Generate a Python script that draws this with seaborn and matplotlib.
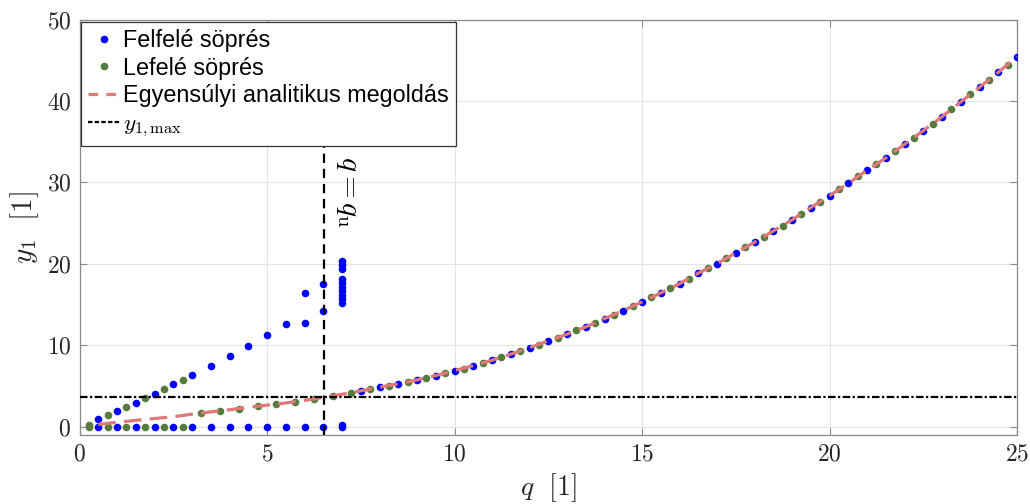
import numpy as np
import pandas as pd
import matplotlib
matplotlib.use("Agg")
import matplotlib.pyplot as plt
import seaborn as sns
from matplotlib.lines import Line2D

# ---------------- data ----------------
# up-sweep (Felfelé söprés)
blue_q = [0.5, 1.0, 1.5, 2.0, 2.5, 3.0, 3.5, 4.0, 4.5, 5.0, 5.5, 6.0, 6.0, 6.5, 6.5,
          7.0, 7.0, 7.0, 7.0, 7.0, 7.0, 7.0, 7.0, 7.0, 7.0,
          0.5, 1.0, 1.5, 2.0, 2.5, 3.0, 3.5, 4.0, 4.5, 5.0, 5.5, 6.0, 6.5, 7.0, 7.0,
          7.5, 8.0, 8.5, 9.0, 9.5, 10.0, 10.5, 11.0, 11.5, 12.0, 12.5, 13.0, 13.5,
          14.0, 14.5, 15.0, 15.5, 16.0, 16.5, 17.0, 17.5, 18.0, 18.5, 19.0, 19.5,
          20.0, 20.5, 21.0, 21.5, 22.0, 22.5, 23.0, 23.5, 24.0, 24.5, 25.0]
blue_y = [0.94, 1.96, 2.98, 4.09, 5.24, 6.34, 7.52, 8.71, 9.98, 11.29, 12.64, 12.8, 16.44, 14.2, 17.55,
          20.4, 19.9, 19.4, 18.2, 17.7, 17.2, 16.7, 16.2, 15.7, 15.2,
          0, 0, 0, 0, 0, 0, 0, 0, 0, 0, 0, 0, 0, 0, 0.2,
          4.42, 4.87, 5.28, 5.77, 6.30, 6.91, 7.52, 8.18, 8.92, 9.73, 10.55, 11.37, 12.27,
          13.29, 14.27, 15.34, 16.44, 17.57, 18.86, 20.04, 21.35, 22.66, 24.05, 25.4, 26.91,
          28.38, 29.88, 31.5, 33.0, 34.69, 36.36, 38.07, 39.88, 41.68, 43.52, 45.44]

# down-sweep (Lefelé söprés)
green_q = [0.25, 0.75, 1.25, 1.75, 2.25, 2.75,
           0.25, 0.75, 1.25, 1.75, 2.25, 2.75,
           3.25, 3.75, 4.25, 4.75, 5.25, 5.75, 6.25, 6.75, 7.25, 7.75, 8.25, 8.75,
           9.25, 9.75, 10.25, 10.75, 11.25, 11.75, 12.25, 12.75, 13.25, 13.75, 14.25,
           14.75, 15.25, 15.75, 16.25, 16.75, 17.25, 17.75, 18.25, 18.75, 19.25, 19.75,
           20.25, 20.75, 21.25, 21.75, 22.25, 22.75, 23.25, 23.75, 24.25, 24.75]
green_y = [0, 0, 0, 0, 0, 0,
           0.2, 1.47, 2.49, 3.6, 4.7, 5.8,
           1.72, 1.96, 2.25, 2.54, 2.79, 3.07, 3.44, 3.80, 4.21, 4.62, 5.03, 5.52,
           6.01, 6.63, 7.15, 7.81, 8.59, 9.36, 10.1, 10.96, 11.9, 12.8, 13.78,
           14.81, 15.95, 17.0, 18.2, 19.47, 20.74, 22.05, 23.35, 24.7, 26.17, 27.64,
           29.2, 30.76, 32.23, 33.87, 35.5, 37.18, 38.98, 40.82, 42.61, 44.45]

# analytic equilibrium solution
red_q = [0.5, 1.0, 1.5, 2.0, 2.5, 3.0, 3.5, 4.0, 4.5, 5.0, 5.5, 6.0, 6.5, 7.0,
         7.5, 8.0, 8.5, 9.0, 9.5, 10.0, 10.5, 11.0, 11.5, 12.0, 12.5, 13.0, 13.5,
         14.0, 14.5, 15.0, 15.5, 16.0, 16.5, 17.0, 17.5, 18.0, 18.5, 19.0, 19.5,
         20.0, 20.5, 21.0, 21.5, 22.0, 22.5, 23.0, 23.5, 24.0, 24.5, 25.0]
red_y = [0.30, 0.55, 0.80, 1.02, 1.25, 1.55, 1.84, 2.10, 2.40, 2.66, 2.93, 3.25, 3.62, 4.0,
         4.42, 4.87, 5.28, 5.77, 6.30, 6.91, 7.52, 8.18, 8.92, 9.73, 10.55, 11.37, 12.27,
         13.29, 14.27, 15.34, 16.44, 17.57, 18.86, 20.04, 21.35, 22.66, 24.05, 25.4, 26.91,
         28.38, 29.88, 31.5, 33.0, 34.69, 36.36, 38.07, 39.88, 41.68, 43.52, 45.44]

q_u = 6.53
y1_max = 3.65
qu_line_top = 34.8

x_ticks = [0, 5, 10, 15, 20, 25]
y_ticks = [0, 10, 20, 30, 40, 50]

labels = ["Felfelé söprés", "Lefelé söprés", "Egyensúlyi analitikus megoldás", r"$y_{1,\max}$"]

# ---------------- style ----------------
sns.set_theme(style="white")
plt.rcParams["font.family"] = ["Liberation Sans", "DejaVu Sans"]
plt.rcParams["mathtext.fontset"] = "cm"

BLUE = "#0000ff"
GREEN = "#557c3d"
RED = "#e07878"
SPINE = "#8a8a8a"
TXT = "#262626"

fig = plt.figure(figsize=(10.3, 5.04), dpi=100)
ax = fig.add_axes([0.0772, 0.1369, 0.9102, 0.8244])

df_b = pd.DataFrame({"q": blue_q, "y": blue_y})
df_g = pd.DataFrame({"q": green_q, "y": green_y})
df_r = pd.DataFrame({"q": red_q, "y": red_y})

sns.scatterplot(data=df_b, x="q", y="y", color=BLUE, s=30, linewidth=0, ax=ax, zorder=3, legend=False)
sns.scatterplot(data=df_g, x="q", y="y", color=GREEN, s=30, linewidth=0, ax=ax, zorder=3, legend=False)
sns.lineplot(data=df_r, x="q", y="y", color=RED, lw=2.3, ax=ax, zorder=4, legend=False)
red_line = ax.lines[-1]
red_line.set_dashes((5.5, 2.6))

ax.plot([q_u, q_u], [-1, qu_line_top], color="black", lw=1.6, dashes=(4.2, 2.6), zorder=5)
hl, = ax.plot([0, 25], [y1_max, y1_max], color="black", lw=1.6, zorder=5)
hl.set_dashes((3.4, 1.1, 1.0, 1.1))

ax.text(7.15, 28.8, r"$q = q_\mathrm{u}$", rotation=270, ha="center", va="center",
        fontsize=21, color="black")

ax.set_xlim(0, 25)
ax.set_ylim(-1, 50)
ax.set_xticks(x_ticks)
ax.set_yticks(y_ticks)
ax.set_xticklabels([f"${v}$" for v in x_ticks], fontsize=17, color=TXT)
ax.set_yticklabels([f"${v}$" for v in y_ticks], fontsize=17, color=TXT)
ax.set_xlabel(r"$q\ \ [1]$", fontsize=20, color=TXT, labelpad=4)
ax.set_ylabel(r"$y_1\ \ [1]$", fontsize=21, color=TXT, labelpad=4)

ax.tick_params(direction="in", length=5, width=0.8, color=SPINE, top=True, right=True,
               bottom=True, left=True, pad=6)
for s in ax.spines.values():
    s.set_color(SPINE)
    s.set_linewidth(0.9)
ax.grid(True, color="#e3e3e3", lw=0.8)
ax.set_axisbelow(True)

handles = [
    Line2D([], [], ls="none", marker="o", color=BLUE, markersize=5.5, markeredgewidth=0),
    Line2D([], [], ls="none", marker="o", color=GREEN, markersize=5.5, markeredgewidth=0),
    Line2D([], [], color=RED, lw=2.3, dashes=(3.0, 2.6)),
    Line2D([], [], color="black", lw=1.6, dashes=(2.0, 1.0)),
]
leg = ax.legend(handles, labels, loc="upper left", bbox_to_anchor=(0.0015, 0.994),
                borderaxespad=0, frameon=True, fancybox=False, framealpha=1,
                edgecolor="#333333", fontsize=16.8, handlelength=1.4, handletextpad=0.1,
                borderpad=0.3, labelspacing=0.2, labelcolor="black")
leg.get_frame().set_linewidth(0.9)
leg.set_zorder(10)

fig.savefig("out.png", dpi=100)
